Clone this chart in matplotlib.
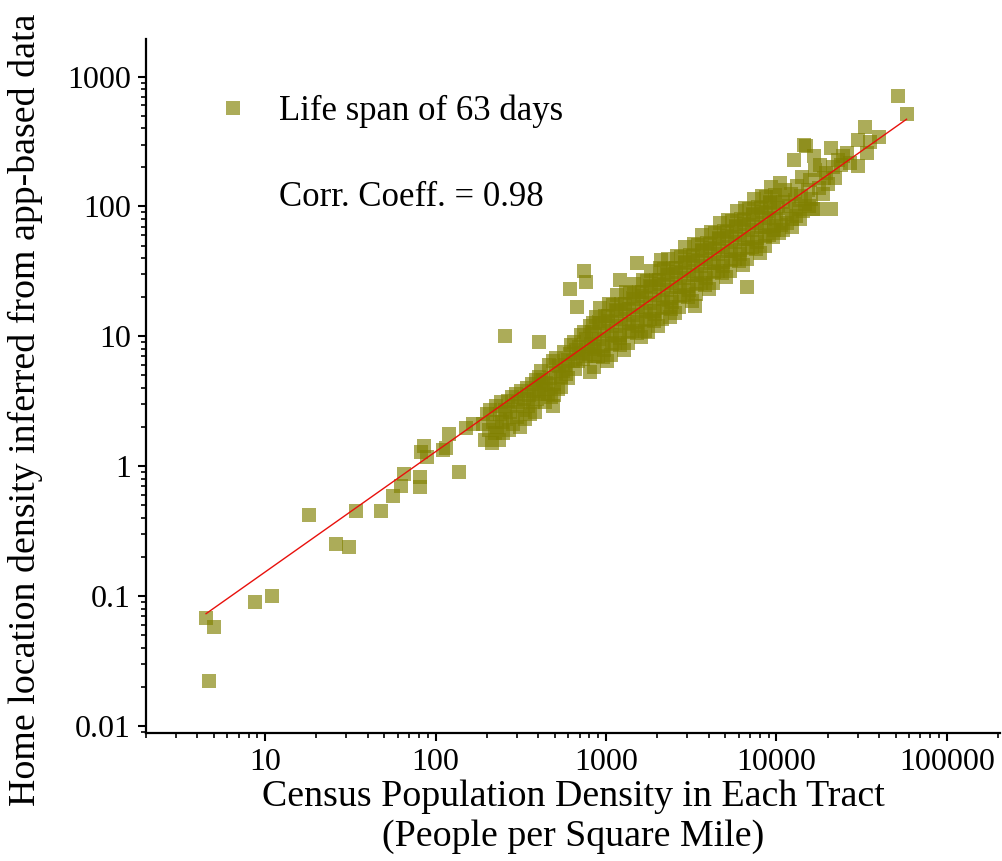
import numpy as np
import matplotlib
matplotlib.use("Agg")
import matplotlib.pyplot as plt
from matplotlib.ticker import LogLocator, NullFormatter, FixedLocator, FixedFormatter

plt.rcParams["font.family"] = ["Liberation Serif", "DejaVu Serif"]

# (census density, app-based density)
low_tail = [(4.5, 0.068), (5.0, 0.058), (4.7, 0.022), (8.7, 0.090), (11, 0.10),
            (18, 0.42), (26, 0.25), (31, 0.24), (34, 0.45), (48, 0.45),
            (56, 0.59), (63, 0.70), (65, 0.87), (81, 0.82), (81, 0.69),
            (82, 1.28), (89, 1.17), (86, 1.43), (110, 1.33), (115, 1.38),
            (138, 0.90), (120, 1.76), (165, 2.1), (150, 1.95)]

mid_outliers = [(255, 10), (405, 9.0), (615, 23), (740, 31.6), (760, 26),
                (680, 16.7), (490, 2.9), (492, 3.5), (810, 5.3), (1770, 10.7),
                (1520, 37), (2100, 39), (3350, 17), (6700, 24), (1210, 27),
                (2380, 14.2)]

band_low = [(190, 2.1), (195, 1.6), (200, 2.5), (205, 1.9), (210, 2.7), (214, 1.5),
            (218, 2.2), (222, 1.8), (226, 2.9), (230, 2.0), (234, 1.6), (238, 2.5),
            (242, 3.1), (246, 2.2), (250, 1.8), (255, 2.7), (260, 2.3), (265, 3.2),
            (270, 1.9), (275, 2.6), (280, 3.4), (285, 2.1), (290, 2.9), (295, 3.6),
            (300, 2.4), (306, 3.1), (312, 2.0), (318, 3.8), (324, 2.7), (330, 3.3),
            (336, 2.3), (342, 4.0), (348, 2.9), (354, 3.5), (360, 2.5), (366, 4.3),
            (372, 3.1), (378, 3.8), (384, 2.6), (390, 4.6), (396, 3.3)]

band_mid = [(402, 3.6), (406, 4.9), (414, 4.2), (418, 5.4), (426, 4.6), (430, 3.9),
            (440, 3.1), (445, 4.4), (455, 3.6), (460, 6.0), (470, 4.8), (476, 3.4),
            (488, 6.4), (494, 4.3), (506, 5.2), (512, 6.8), (524, 3.9), (530, 5.9),
            (542, 4.9), (548, 4.1), (560, 5.4), (566, 7.6), (578, 6.0), (584, 5.1),
            (596, 6.6), (602, 4.8), (615, 7.3), (622, 8.6), (638, 6.4), (646, 9.0),
            (662, 5.6), (670, 7.9), (686, 6.5), (694, 8.3), (710, 10.2), (718, 7.5),
            (734, 6.7), (742, 10.8), (758, 7.1), (766, 9.5), (782, 8.4), (790, 7.3),
            (806, 12.0), (814, 8.8), (830, 10.7), (838, 12.6), (854, 8.0)]

band_core1 = [(850, 5.8), (858, 8.3), (866, 10.5), (874, 14.1),
              (900, 7.1), (908, 9.6), (916, 12.7), (925, 16.6),
              (955, 6.9), (963, 8.4), (972, 11.0), (981, 14.4),
              (1012, 6.4), (1020, 10.1), (1030, 13.2), (1040, 17.6),
              (1070, 7.2), (1080, 10.2), (1090, 13.0), (1100, 17.4),
              (1135, 8.9), (1145, 11.9), (1155, 15.7), (1165, 20.7),
              (1200, 8.5), (1210, 10.3), (1220, 13.5), (1232, 17.8),
              (1274, 7.9), (1285, 12.5), (1296, 16.3), (1308, 21.8),
              (1350, 8.9), (1361, 12.7), (1373, 16.1), (1385, 21.6),
              (1430, 10.9), (1442, 14.7), (1455, 19.5), (1468, 25.5),
              (1514, 10.6), (1527, 12.8), (1540, 16.8), (1554, 22.1),
              (1603, 9.8), (1617, 15.5), (1631, 20.3), (1645, 27.0),
              (1698, 11.0), (1713, 15.7), (1728, 19.9), (1743, 26.7),
              (1800, 13.5), (1815, 18.2), (1831, 24.1), (1847, 31.6),
              (1905, 13.1), (1921, 15.8), (1938, 20.8), (1955, 27.3),
              (2018, 12.1), (2035, 19.2), (2053, 25.1), (2071, 33.4),
              (2138, 13.7), (2156, 19.4), (2175, 24.8), (2194, 33.2),
              (2265, 16.8), (2284, 22.6), (2304, 29.8), (2324, 39.1),
              (2400, 16.2), (2420, 19.6), (2441, 25.7), (2462, 33.8),
              (2541, 15.0), (2563, 23.8), (2585, 31.1), (2607, 41.4),
              (2692, 16.9), (2715, 24.0), (2738, 30.6), (2762, 41.0),
              (2851, 20.7), (2875, 27.9), (2900, 36.9), (2925, 48.4)]

band_core2 = [(3020, 20.1), (3046, 24.3), (3072, 31.9), (3098, 42.0),
              (3200, 18.6), (3227, 29.4), (3255, 38.4), (3283, 51.2),
              (3388, 21.0), (3417, 29.7), (3446, 37.9), (3476, 50.7),
              (3589, 25.6), (3620, 34.5), (3651, 45.6), (3682, 59.8),
              (3802, 24.8), (3835, 30.1), (3868, 39.5), (3901, 51.9),
              (4027, 23.0), (4062, 36.4), (4097, 47.5), (4132, 63.4),
              (4266, 25.9), (4303, 36.8), (4340, 46.8), (4377, 62.7),
              (4519, 31.8), (4558, 42.8), (4597, 56.4), (4637, 74.1),
              (4786, 30.7), (4827, 37.2), (4869, 48.8), (4911, 64.2),
              (5070, 28.5), (5114, 45.2), (5158, 58.9), (5202, 78.6),
              (5370, 32.1), (5416, 45.6), (5463, 58.0), (5510, 77.7),
              (5689, 39.3), (5738, 53.0), (5788, 69.9), (5838, 91.7),
              (6026, 38.0), (6078, 46.1), (6130, 60.5), (6183, 79.5),
              (6383, 35.3), (6438, 55.9), (6494, 73.0), (6550, 97.3),
              (6761, 39.7), (6819, 56.4), (6878, 71.8), (6937, 96.2),
              (7161, 48.7), (7223, 65.6), (7285, 86.5), (7348, 113.6),
              (7586, 47.1), (7651, 57.0), (7717, 74.9), (7784, 98.4),
              (8035, 43.6), (8104, 69.2), (8174, 90.2), (8245, 120.3),
              (8511, 49.2), (8584, 69.8), (8658, 88.8), (8733, 119.0),
              (9016, 60.3), (9094, 81.2), (9172, 107.1), (9251, 140.6),
              (9550, 58.3), (9632, 70.6), (9715, 92.7), (9799, 121.9)]

band_core_fill = [(862, 7.1), (912, 12.9), (968, 7.8), (1025, 14.3), (1085, 8.7),
                  (1150, 16.0), (1215, 9.7), (1290, 17.7), (1367, 10.8), (1448, 19.8),
                  (1534, 12.0), (1624, 22.0), (1720, 13.4), (1823, 24.4), (1930, 14.9),
                  (2044, 27.2), (2165, 16.6), (2294, 30.3), (2430, 18.4), (2574, 33.7),
                  (2726, 20.5), (2888, 37.4), (3059, 22.8), (3241, 41.6), (3431, 25.4),
                  (3635, 46.3), (3851, 28.2), (4080, 51.5), (4321, 31.4), (4578, 57.3),
                  (4848, 34.9), (5136, 63.8), (5440, 38.9), (5763, 71.0), (6104, 43.2),
                  (6466, 79.0), (6848, 48.1), (7254, 87.9), (7684, 53.5), (8140, 97.8),
                  (8620, 59.5), (9133, 108.8), (9673, 66.2)]

band_high = [(9950, 80), (10100, 118), (10200, 97), (10300, 62), (10500, 152),
             (10700, 72), (10900, 108), (11000, 66), (11200, 135), (11400, 88),
             (11600, 74), (11800, 100), (12100, 125), (12300, 70), (12400, 80),
             (12600, 230), (12800, 112), (13000, 84), (13200, 145), (13500, 95),
             (13700, 80), (13900, 120), (14200, 170), (14400, 92), (14500, 300),
             (14800, 105), (15000, 290), (15300, 135), (15500, 100), (15700, 160),
             (16000, 115), (16300, 96), (16600, 243), (16900, 190), (17400, 95),
             (17700, 140), (18000, 210), (18700, 124), (19000, 167), (19500, 180),
             (20000, 150), (21000, 95), (21000, 283), (21500, 200), (22000, 165),
             (23000, 230), (24000, 210), (24500, 245), (26000, 260), (27000, 215),
             (30000, 323), (30000, 204), (33000, 412), (34000, 260), (35500, 316),
             (40000, 340), (52000, 705), (58000, 520)]

# fitted line end points
fit_x = [4.5, 58000]
fit_y = [0.073, 470]

pts = np.array(low_tail + mid_outliers + band_low + band_mid + band_core1
               + band_core2 + band_core_fill + band_high)

fig = plt.figure(figsize=(10.03, 8.61), dpi=100)
ax = fig.add_axes([0.1456, 0.1487, 0.8514, 0.806])

ax.plot(pts[:, 0], pts[:, 1], ls="none", marker="s", ms=10, mew=0,
        color="#808000", alpha=0.65, label="Life span of 63 days", zorder=2)
ax.plot(fit_x, fit_y, color="#e8100c", lw=1.0, zorder=3)

ax.set_xscale("log")
ax.set_yscale("log")
ax.set_xlim(2, 2.05e5)
ax.set_ylim(0.0088, 1950)

ax.spines["top"].set_visible(False)
ax.spines["right"].set_visible(False)
for s in ("left", "bottom"):
    ax.spines[s].set_linewidth(1.6)

xt = [10, 100, 1000, 10000, 100000]
ax.xaxis.set_major_locator(FixedLocator(xt))
ax.xaxis.set_major_formatter(FixedFormatter([str(v) for v in xt]))
yt = [0.01, 0.1, 1, 10, 100, 1000]
ax.yaxis.set_major_locator(FixedLocator(yt))
ax.yaxis.set_major_formatter(FixedFormatter(["0.01", "0.1", "1", "10", "100", "1000"]))
for axis in (ax.xaxis, ax.yaxis):
    axis.set_minor_locator(LogLocator(base=10, subs=np.arange(2, 10), numticks=20))
    axis.set_minor_formatter(NullFormatter())

ax.tick_params(which="major", direction="out", length=6, width=1.5, labelsize=23, pad=5)
ax.tick_params(which="minor", direction="out", length=3.5, width=1.2)

ax.set_xlabel("Census Population Density in Each Tract\n(People per Square Mile)",
              fontsize=27.3, labelpad=1.5, linespacing=1.2)
ax.set_ylabel("Home location density inferred from app-based data", fontsize=27.3)
ax.yaxis.set_label_coords(-0.121, 0.465)

ax.legend(loc="center left", bbox_to_anchor=(0.081, 0.896), frameon=False,
          fontsize=25, borderpad=0, handlelength=1.0, handletextpad=0.85,
          numpoints=1, borderaxespad=0)
ax.text(0.1557, 0.772, "Corr. Coeff. = 0.98", transform=ax.transAxes,
        fontsize=25, va="center", ha="left")

fig.savefig("out.png", dpi=100)
